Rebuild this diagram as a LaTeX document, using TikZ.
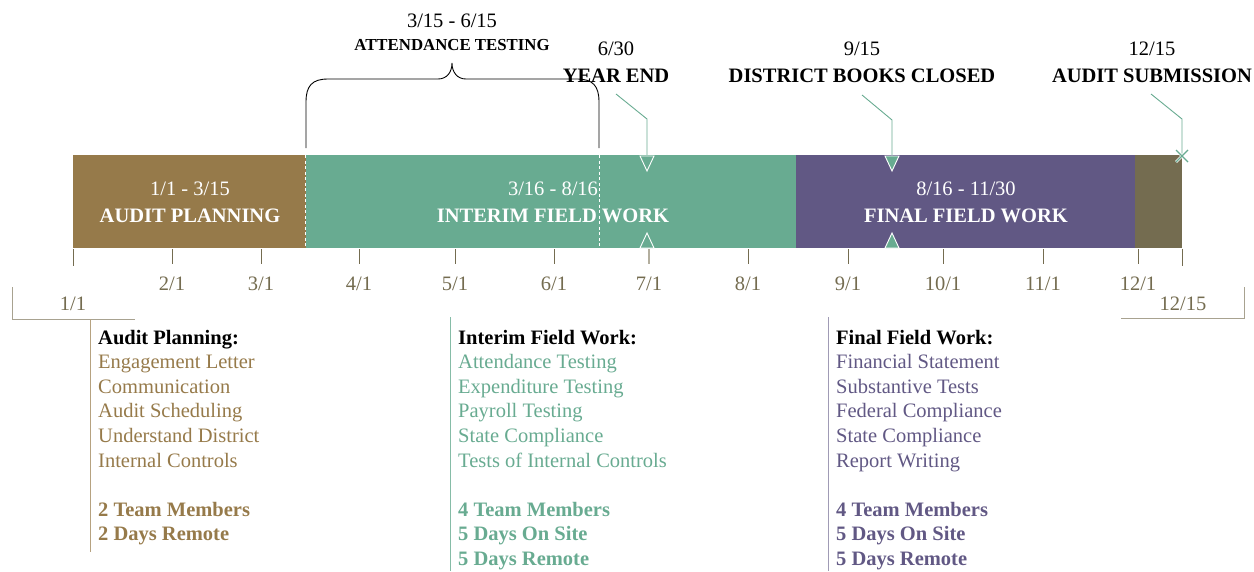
\documentclass[tikz,border=0pt]{standalone}
\usepackage{fontspec}
\setmainfont{Liberation Serif}

\definecolor{planbrown}{HTML}{967A4A}
\definecolor{interimteal}{HTML}{68AB91}
\definecolor{finalpurple}{HTML}{615884}
\definecolor{submitolive}{HTML}{746C50}
\definecolor{tickgray}{HTML}{B3AE9E}
\definecolor{bracketgray}{HTML}{A8A290}

\begin{document}
\begin{tikzpicture}[x=1pt,y=-1pt,
  every node/.style={font=\fontsize{20.5}{24.6}\selectfont,inner sep=0pt},
  datelbl/.style={anchor=base,text=submitolive},
  barlbl/.style={anchor=base,text=white},
  toplbl/.style={anchor=base},
  item/.style={anchor=base west},
  tickmark/.style={submitolive,line width=0.8pt},
  callout/.style={interimteal,line width=0.9pt},
  splitline/.style={white,line width=0.9pt,dash pattern=on 3pt off 2.5pt}]

\useasboundingbox (0,0) rectangle (1254,571);

  % the bar
  \fill[planbrown] (73,155) rectangle (306,248);
  \fill[interimteal] (306,155) rectangle (796,248);
  \fill[finalpurple] (796,155) rectangle (1135,248);
  \fill[submitolive] (1135,155) rectangle (1182,248);
  \draw[splitline] (305,155) -- (305,248);
  \draw[splitline] (599,155) -- (599,248);

  \draw (190,195) node[barlbl] (plandate) {1/1 - 3/15}
  ++(0,27) node[barlbl] (planname) {\textbf{AUDIT PLANNING}};
  \draw (553,195) node[barlbl] (interimdate) {3/16 - 8/16}
  ++(0,27) node[barlbl] (interimname) {\textbf{INTERIM FIELD WORK}};
  \draw (966,195) node[barlbl] (finaldate) {8/16 - 11/30}
  ++(0,27) node[barlbl] (finalname) {\textbf{FINAL FIELD WORK}};

  % ticks
  \foreach \x/\m in {172/2,261/3,359/4,455/5,554/6,748/8,848/9,943/10,1043/11,1138/12} {
    \draw[tickmark] (\x,249) -- (\x,264);
    \draw (\x,290) node[datelbl] (month\m) {\m/1};
  }
  \draw[tickgray,line width=1.6pt] (649,249) -- (649,264);
  \draw (649,290) node[datelbl] (month7) {7/1};

  \draw[tickmark] (73,249) -- (73,266);
  \draw[tickmark] (1182,249) -- (1182,266);
  \draw (73,310) node[datelbl] (startday) {1/1};
  \draw (1183,310) node[datelbl] (endday) {12/15};
  \draw[bracketgray,line width=1pt] (12,287) -- (12,319) -- (135,319);
  \draw[bracketgray,line width=1pt] (1121,318) -- (1244,318) -- (1244,287);

  % attendance brace
  \draw (452,27) node[toplbl] (attdate) {3/15 - 6/15}
  ++(0,23) node[toplbl,font=\fontsize{16.8}{20}\selectfont\bfseries] (attname) {ATTENDANCE TESTING};
  \draw[line width=0.9pt] (306,148) -- (306,102)
    .. controls (306,86) and (312,79) .. (328,79) -- (438,79)
    .. controls (447,79) and (452,72) .. (452,63)
    .. controls (452,72) and (457,79) .. (466,79) -- (577,79)
    .. controls (593,79) and (599,86) .. (599,102) -- (599,148);

  % callouts
  \draw (616,55) node[toplbl] (yedate) {6/30}
  ++(0,27) node[toplbl] (yename) {\textbf{YEAR END}};
  \draw (862,55) node[toplbl] (booksdate) {9/15}
  ++(0,27) node[toplbl] (booksname) {\textbf{DISTRICT BOOKS CLOSED}};
  \draw (1152,55) node[toplbl] (subdate) {12/15}
  ++(0,27) node[toplbl] (subname) {\textbf{AUDIT SUBMISSION}};

  \coordinate (yefoot) at (616,94);
  \coordinate (yebend) at (647,119);
  \coordinate (yetip) at (647,156);
  \coordinate (booksfoot) at (862,95);
  \coordinate (booksbend) at (892,120);
  \coordinate (bookstip) at (892,156);
  \coordinate (subfoot) at (1151,94);
  \coordinate (subbend) at (1182,119);
  \coordinate (subtip) at (1182,156);

  \draw[callout] (yefoot) -- (yebend) -- (yetip);
  \draw[callout] (booksfoot) -- (booksbend) -- (bookstip);
  \draw[callout] (subfoot) -- (subbend) -- (subtip);

  \draw[white,fill=interimteal,line width=0.9pt] (640,156) -- (654,156) -- (647,171) -- cycle;
  \draw[white,fill=interimteal,line width=0.9pt] (640,248) -- (654,248) -- (647,233) -- cycle;
  \draw[white,fill=interimteal,line width=0.9pt] (885,156) -- (899,156) -- (892,171) -- cycle;
  \draw[white,fill=interimteal,line width=0.9pt] (885,248) -- (899,248) -- (892,233) -- cycle;
  \draw[white,line width=2.6pt] (1176,150) -- (1188,162) (1176,162) -- (1188,150);
  \draw[interimteal,line width=1.1pt] (1176,150) -- (1188,162) (1176,162) -- (1188,150);

  % detail columns
  \draw[planbrown!70,line width=1pt] (90,319) -- (90,552);
  \draw[interimteal!80,line width=1pt] (450,317) -- (450,571);
  \draw[finalpurple!60,line width=1pt] (828,317) -- (828,571);

  \draw (98,344) node[item] (planhead) {\textbf{Audit Planning:}};
  \foreach \t [count=\i] in {Engagement Letter,Communication,Audit Scheduling,Understand District,Internal Controls}
    \draw (98,344+24.6*\i) node[item,text=planbrown] (plan\i) {\t};
  \draw (98,516) node[item,text=planbrown] (planteam) {\textbf{2 Team Members}}
  ++(0,24.6) node[item,text=planbrown] (planremote) {\textbf{2 Days Remote}};

  \draw (458,344) node[item] (interimhead) {\textbf{Interim Field Work:}};
  \foreach \t [count=\i] in {Attendance Testing,Expenditure Testing,Payroll Testing,State Compliance,Tests of Internal Controls}
    \draw (458,344+24.6*\i) node[item,text=interimteal] (interim\i) {\t};
  \draw (458,516) node[item,text=interimteal] (interimteam) {\textbf{4 Team Members}}
  ++(0,24.6) node[item,text=interimteal] (interimsite) {\textbf{5 Days On Site}}
  ++(0,24.6) node[item,text=interimteal] (interimremote) {\textbf{5 Days Remote}};

  \draw (836,344) node[item] (finalhead) {\textbf{Final Field Work:}};
  \foreach \t [count=\i] in {Financial Statement,Substantive Tests,Federal Compliance,State Compliance,Report Writing}
    \draw (836,344+24.6*\i) node[item,text=finalpurple] (final\i) {\t};
  \draw (836,516) node[item,text=finalpurple] (finalteam) {\textbf{4 Team Members}}
  ++(0,24.6) node[item,text=finalpurple] (finalsite) {\textbf{5 Days On Site}}
  ++(0,24.6) node[item,text=finalpurple] (finalremote) {\textbf{5 Days Remote}};

\end{tikzpicture}
\end{document}
